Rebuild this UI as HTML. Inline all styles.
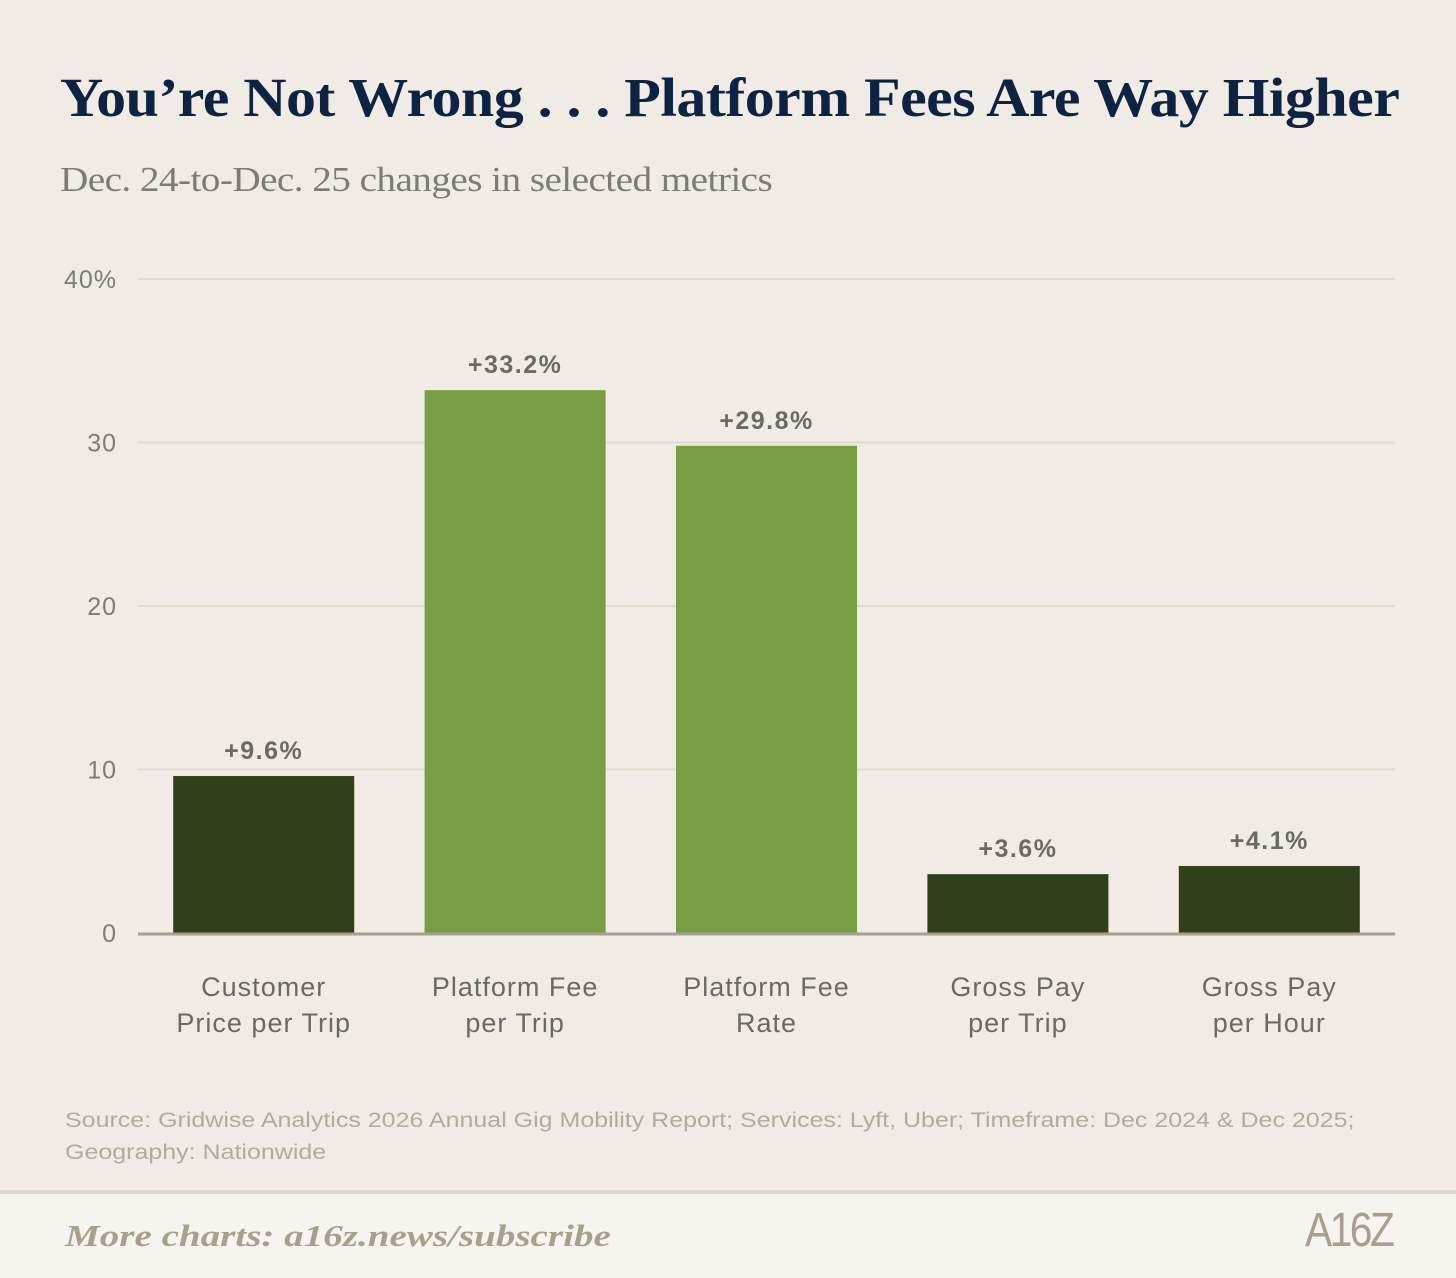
<!DOCTYPE html>
<html><head><meta charset="utf-8"><style>
body{margin:0;width:1456px;height:1278px;background:#f0ece5;overflow:hidden;position:relative;font-family:"Liberation Sans",sans-serif}
.t{position:absolute;white-space:nowrap}
</style></head><body>
<div class="t" style="left:60px;top:66px;font-family:'Liberation Serif',serif;font-weight:bold;font-size:55px;color:#0e2341;letter-spacing:-0.5px;transform:scaleX(1.09);transform-origin:left">You’re Not Wrong . . . Platform Fees Are Way Higher</div>
<div class="t" style="left:60px;top:160px;font-family:'Liberation Serif',serif;font-size:35px;color:#7d7b78;letter-spacing:-0.5px;transform:scaleX(1.12);transform-origin:left">Dec. 24-to-Dec. 25 changes in selected metrics</div>
<svg id="chart" width="1456" height="1100" style="position:absolute;left:0;top:0"></svg>
<div class="t" style="left:65px;top:1105px;font-size:21px;line-height:32px;color:#b3aa9a;transform:scaleX(1.19);transform-origin:left">Source: Gridwise Analytics 2026 Annual Gig Mobility Report; Services: Lyft, Uber; Timeframe: Dec 2024 &amp; Dec 2025;<br>Geography: Nationwide</div>
<div style="position:absolute;left:0;top:1190px;width:1456px;height:88px;background:#f6f4ef;border-top:4px solid #e0d9cb;box-sizing:border-box"></div>
<div class="t" style="left:65px;top:1218px;font-family:'Liberation Serif',serif;font-style:italic;font-weight:bold;font-size:31px;color:#a89f8c;transform:scaleX(1.26);transform-origin:left">More charts: a16z.news/subscribe</div>
<div class="t" style="left:1305px;top:1203px;font-family:'Liberation Sans',sans-serif;font-size:48px;color:#a89f8c;letter-spacing:-3px;transform:scaleX(0.85);transform-origin:left">A16Z</div>
<script>
const categories=[["Customer","Price per Trip"],["Platform Fee","per Trip"],["Platform Fee","Rate"],["Gross Pay","per Trip"],["Gross Pay","per Hour"]];
const values=[9.6,33.2,29.8,3.6,4.1];
const valueLabels=["+9.6%","+33.2%","+29.8%","+3.6%","+4.1%"];
const highlight=[false,true,true,false,false];
const ticks=[0,10,20,30,40];
const tickLabels=["0","10","20","30","40%"];
const svg=document.getElementById('chart');const NS='http://www.w3.org/2000/svg';
const x0=138,x1=1395,y0=933,yTop=279,vmax=40;
const y=v=>y0-(v/vmax)*(y0-yTop);
const band=(x1-x0)/categories.length,bw=181;
const bx=i=>x0+band*i+(band-bw)/2;
function mk(t,a,txt){const e=document.createElementNS(NS,t);for(const k in a)e.setAttribute(k,a[k]);if(txt!=null)e.textContent=txt;svg.appendChild(e);return e;}
ticks.forEach((t,i)=>{
 if(t>0){const g=mk('line',{x1:x0,x2:x1,y1:y(t),y2:y(t),stroke:'#e0dccb','stroke-width':2});
 
 }
 const l=mk('text',{x:117,y:y(t)+9,'text-anchor':'end','font-size':25,'letter-spacing':1,fill:'#7d7b78','font-family':'Liberation Sans, sans-serif'},tickLabels[i]);
 
 
});
values.forEach((v,i)=>{
 const r=mk('rect',{x:bx(i),y:y(v),width:bw,height:y0-y(v),fill:highlight[i]?'#789c43':'#313f1b'});
 
 
 const t=mk('text',{x:bx(i)+bw/2,y:y(v)-17,'text-anchor':'middle','font-size':25,'letter-spacing':1.5,'font-weight':'bold',fill:'#6b6966','font-family':'Liberation Sans, sans-serif'},valueLabels[i]);
 
 
 categories[i].forEach((s,j)=>{const c=mk('text',{x:bx(i)+bw/2,y:996+j*36,'text-anchor':'middle','font-size':27,'letter-spacing':1,fill:'#6b6966','font-family':'Liberation Sans, sans-serif'},s);
 
 });
});
const ax=mk('line',{x1:x0,x2:x1,y1:y0+1,y2:y0+1,stroke:'#a89f8c','stroke-width':3});


</script>
</body></html>
